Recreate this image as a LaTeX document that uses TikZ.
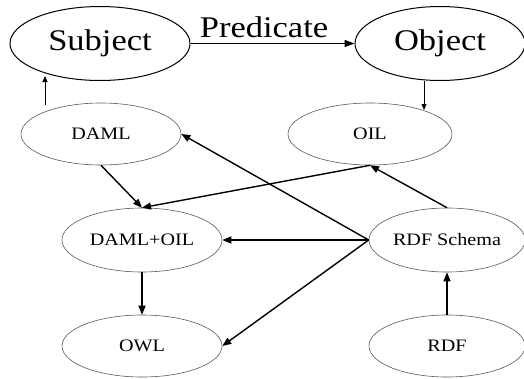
\documentclass[tikz,border=0pt]{standalone}
\usepackage{fontspec}
\setmainfont{Liberation Serif}
\usepackage{graphicx}
\usetikzlibrary{shapes.geometric,arrows.meta}
\newcommand{\bigtxt}[1]{\scalebox{1.15}[1]{\fontsize{30}{32}\selectfont #1}}
\newcommand{\smtxt}[1]{\scalebox{1.15}[1]{\fontsize{17.5}{19}\selectfont #1}}
\tikzset{
  topell/.style={ellipse, draw=black, line width=1pt, inner sep=0pt},
  lowell/.style={ellipse, draw=black!65, line width=0.6pt, inner sep=0pt, minimum width=160pt, minimum height=62pt},
  thinarr/.style={line width=0.8pt, -{Triangle[length=6pt,width=5pt]}},
  predarr/.style={line width=1.1pt, -{Triangle[length=10pt,width=7pt]}},
  thickarr/.style={line width=1.4pt, -{Triangle[length=9pt,width=7pt]}}
}
\begin{document}
\begin{tikzpicture}[x=1pt,y=-1pt]
\useasboundingbox (0,0) rectangle (524,378);
\node[topell, minimum width=180pt, minimum height=74pt] (subj) at (100,43.5) {\bigtxt{Subject}};
\node[topell, minimum width=170pt, minimum height=74pt] (obj) at (440,43.5) {\bigtxt{Object}};
\node[anchor=base, inner sep=0pt] (pred) at (264,37) {\bigtxt{Predicate}};
\node[lowell] (daml) at (101,134) {\smtxt{DAML}};
\node[lowell, minimum width=164pt] (oil) at (370,134) {\smtxt{OIL}};
\node[lowell, minimum height=64pt] (dlo) at (142,240) {\smtxt{DAML+OIL}};
\node[lowell, minimum width=156pt, minimum height=64pt] (rdfs) at (447,240) {\smtxt{RDF Schema}};
\node[lowell] (owl) at (142,346) {\smtxt{OWL}};
\node[lowell, minimum width=156pt] (rdf) at (447,346) {\smtxt{RDF}};
\coordinate (a1s) at (45,105);
\coordinate (a1e) at (45,76);
\coordinate (a2s) at (424,80.5);
\coordinate (a2e) at (424,110);
\draw[predarr] (subj.east) -- (obj.west);
\draw[thinarr] (a1s) -- (a1e);
\draw[thinarr] (a2s) -- (a2e);
\draw[thickarr] (daml.south) -- (dlo.north);
\draw[thickarr] (oil.south) -- (dlo.north);
\draw[thickarr] (rdfs.west) -- (daml.east);
\draw[thickarr] (rdfs.west) -- (dlo.east);
\draw[thickarr] (rdfs.west) -- (owl.east);
\draw[thickarr] (rdfs.north) -- (oil.south);
\draw[thickarr] (rdf.north) -- (rdfs.south);
\draw[thickarr] (dlo.south) -- (owl.north);
\end{tikzpicture}
\end{document}
